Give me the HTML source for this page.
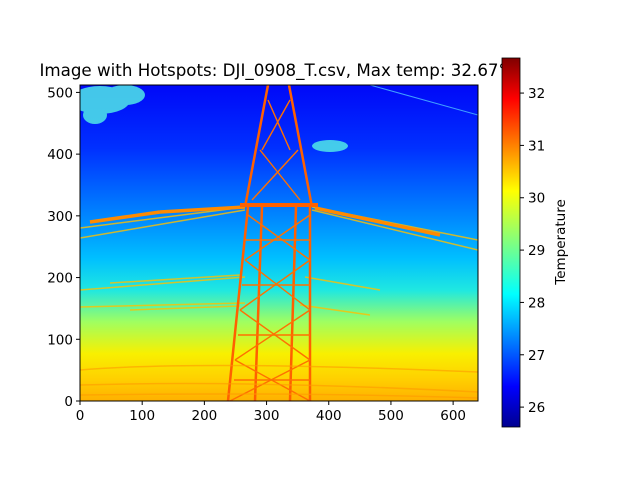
<!DOCTYPE html>
<html><head><meta charset="utf-8"><style>
body{margin:0;background:#fff;}
svg{display:block;font-family:"DejaVu Sans","Liberation Sans",sans-serif;}
</style></head><body>
<svg id="chart" width="640" height="480" viewBox="0 0 640 480">
<defs>
<linearGradient id="sky" x1="0" y1="0" x2="0" y2="1">
<stop offset="0" stop-color="#0008f8"/>
<stop offset="0.2" stop-color="#0030ff"/>
<stop offset="0.42" stop-color="#0088ff"/>
<stop offset="0.55" stop-color="#00c0ff"/>
<stop offset="0.65" stop-color="#20e8e0"/>
<stop offset="0.75" stop-color="#a0ff60"/>
<stop offset="0.85" stop-color="#f8f000"/>
<stop offset="0.93" stop-color="#ffd000"/>
<stop offset="1" stop-color="#ffb000"/>
</linearGradient>
<linearGradient id="jet" x1="0" y1="1" x2="0" y2="0">
<stop offset="0" stop-color="#00008f"/>
<stop offset="0.11" stop-color="#0000ff"/>
<stop offset="0.36" stop-color="#00ffff"/>
<stop offset="0.5" stop-color="#80ff80"/>
<stop offset="0.64" stop-color="#ffff00"/>
<stop offset="0.89" stop-color="#ff0000"/>
<stop offset="1" stop-color="#800000"/>
</linearGradient>
<clipPath id="ax"><rect x="80" y="85" width="398" height="316"/></clipPath>
<clipPath id="tc"><rect x="0" y="0" width="502" height="85"/></clipPath>
</defs>
<text x="279" y="76" font-size="16.7" text-anchor="middle" clip-path="url(#tc)">Image with Hotspots: DJI_0908_T.csv, Max temp: 32.67°C</text>
<g clip-path="url(#ax)">
<rect x="80" y="85" width="398" height="316" fill="url(#sky)"/>
<g fill="#50e8e8" opacity="0.85">
<ellipse cx="100" cy="100" rx="30" ry="14"/><ellipse cx="125" cy="95" rx="20" ry="10"/><ellipse cx="95" cy="115" rx="12" ry="9"/>
<ellipse cx="330" cy="146" rx="18" ry="6"/>
</g>
<line x1="370" y1="85" x2="478" y2="115" stroke="#40a0ff" stroke-width="1"/>
<g stroke="#ffc000" stroke-width="1.5" fill="none" opacity="0.8">
<line x1="80" y1="228" x2="245" y2="207"/><line x1="80" y1="238" x2="245" y2="210"/>
<line x1="312" y1="207" x2="478" y2="240"/><line x1="312" y1="210" x2="478" y2="250"/>
<line x1="80" y1="290" x2="245" y2="277"/><line x1="110" y1="283" x2="240" y2="275"/>
<line x1="305" y1="277" x2="380" y2="290"/><line x1="300" y1="305" x2="370" y2="315"/>
<line x1="80" y1="307" x2="245" y2="303"/><line x1="130" y1="310" x2="240" y2="306"/>
</g>
<g stroke="#ff8a00" stroke-width="3.5" fill="none">
<line x1="245" y1="207" x2="160" y2="212"/><line x1="315" y1="208" x2="440" y2="235"/>
<line x1="160" y1="212" x2="90" y2="222"/>
</g>
<g stroke="#ff6000" stroke-width="2.5" fill="none">
<line x1="268" y1="85" x2="245" y2="207"/><line x1="289" y1="85" x2="312" y2="207"/>
<line x1="248" y1="207" x2="228" y2="401"/><line x1="310" y1="207" x2="310" y2="401"/>
<line x1="262" y1="207" x2="255" y2="401"/><line x1="296" y1="207" x2="290" y2="401"/>
<line x1="240" y1="205" x2="318" y2="205" stroke-width="4"/>
</g>
<g stroke="#ff7000" stroke-width="1.4" fill="none">
<line x1="268" y1="100" x2="290" y2="150"/><line x1="290" y1="100" x2="262" y2="150"/>
<line x1="260" y1="150" x2="300" y2="200"/><line x1="298" y1="150" x2="252" y2="200"/>
<line x1="248" y1="215" x2="310" y2="260"/><line x1="310" y1="215" x2="245" y2="260"/>
<line x1="245" y1="260" x2="310" y2="310"/><line x1="310" y1="260" x2="240" y2="310"/>
<line x1="240" y1="310" x2="310" y2="360"/><line x1="310" y1="310" x2="235" y2="360"/>
<line x1="235" y1="360" x2="310" y2="401"/><line x1="310" y1="360" x2="230" y2="401"/>
<line x1="245" y1="240" x2="310" y2="240"/><line x1="242" y1="285" x2="310" y2="285"/><line x1="238" y1="335" x2="310" y2="335"/><line x1="234" y1="380" x2="310" y2="380"/>
</g>
<g stroke="#ff9a00" stroke-width="1.5" opacity="0.6" fill="none">
<path d="M80 370 Q200 360 478 372"/><path d="M80 385 Q250 380 478 392"/><path d="M80 395 Q300 392 478 398"/>
</g>
</g>
<rect x="80" y="85" width="398" height="316" fill="none" stroke="#000" stroke-width="1"/>
<g id="xticks" font-size="13.5" text-anchor="middle"></g>
<g id="yticks" font-size="13.5" text-anchor="end"></g>
<rect x="502" y="58" width="18" height="369" fill="url(#jet)" stroke="#000" stroke-width="0.8"/>
<g id="cticks" font-size="13.5"></g>
<text transform="translate(565,242) rotate(-90)" font-size="13.5" text-anchor="middle">Temperature</text>
</svg>
<script>
const xTicks=[0,100,200,300,400,500,600];
const yTicks=[0,100,200,300,400,500];
const cTicks=[26,27,28,29,30,31,32];
const NS="http://www.w3.org/2000/svg";
const xs=v=>80+v*398/640, ys=v=>401-v*316/512, cs=v=>427-(v-25.62)*369/(32.67-25.62);
function mk(t,a,p){const e=document.createElementNS(NS,t);for(const k in a)e.setAttribute(k,a[k]);p.appendChild(e);return e;}
const gx=document.getElementById('xticks'),gy=document.getElementById('yticks'),gc=document.getElementById('cticks');
xTicks.forEach(v=>{const x=xs(v);
const l=mk('line',{x1:x,x2:x,y1:401,y2:405,stroke:'#000'},gx);


const t=mk('text',{x:x,y:420},gx);t.textContent=v;

});
yTicks.forEach(v=>{const y=ys(v);
const l=mk('line',{x1:76,x2:80,y1:y,y2:y,stroke:'#000'},gy);


const t=mk('text',{x:73,y:y+5},gy);t.textContent=v;

});
cTicks.forEach(v=>{const y=cs(v);
const l=mk('line',{x1:520,x2:524,y1:y,y2:y,stroke:'#000'},gc);


const t=mk('text',{x:528,y:y+5},gc);t.textContent=v;

});
</script>
</body></html>
